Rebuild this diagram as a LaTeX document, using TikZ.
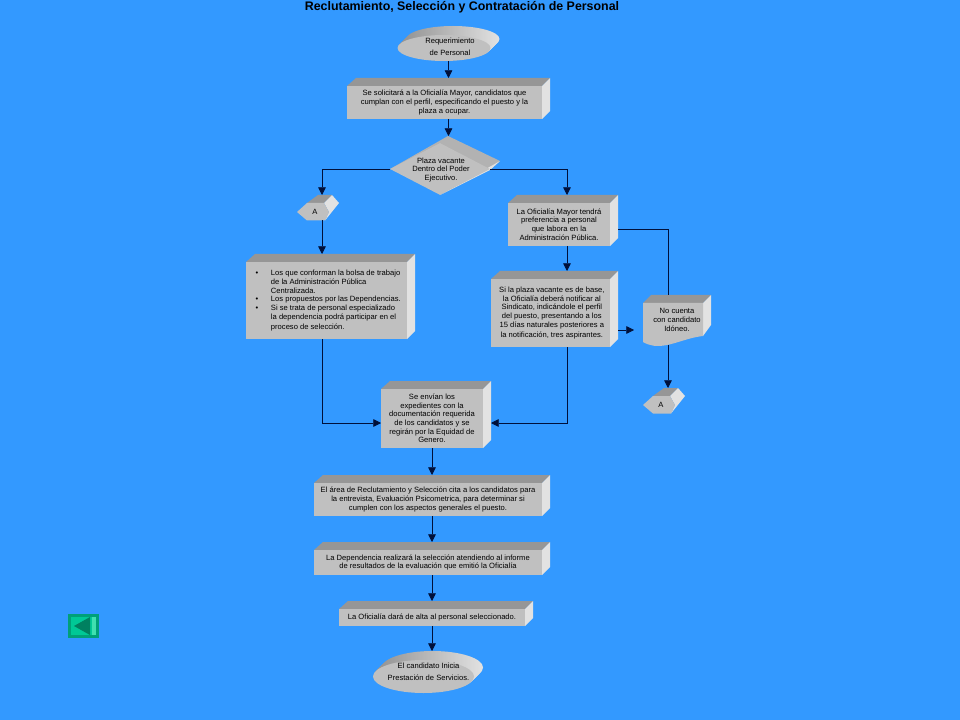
\documentclass[tikz,border=0pt]{standalone}
\usepackage{fontspec}
\setmainfont{Liberation Sans}
\usepackage{tikz}
\usetikzlibrary{arrows.meta,positioning,calc,shapes.geometric}
\definecolor{fondo}{HTML}{3399FF}
\definecolor{frente}{HTML}{C0C0C0}
\definecolor{arriba}{HTML}{969696}
\definecolor{medio}{HTML}{B2B2B2}
\definecolor{lado}{HTML}{E2E2E2}
\definecolor{linea}{HTML}{00103A}
\definecolor{boton}{HTML}{00A078}
\definecolor{botonin}{HTML}{00C896}
\definecolor{botonlu}{HTML}{40E0B0}
\definecolor{botonfl}{HTML}{008060}
\tikzset{
  borde/.style={inner sep=0pt,outer sep=0pt},
  texto/.style={inner sep=0pt,align=center,font=\fontsize{5.7}{6.5}\selectfont},
  flecha/.style={draw=linea,line width=0.6pt,-{Triangle[length=5.8pt,width=5.8pt]}},
  lin/.style={draw=linea,line width=0.6pt},
}
% caja: nombre, x1, y1, x2, y2, texto
\newcommand{\caja}[7][]{%
  \fill[arriba] (#3,#4) -- ++(9,-8) -- ($(#5,#4)+(8,-8)$) -- (#5,#4) -- cycle;
  \fill[lado] (#5,#4) -- ++(8,-8) -- ($(#5,#6)+(8,-8)$) -- (#5,#6) -- cycle;
  \fill[frente] (#3,#4) rectangle (#5,#6);
  \node[borde,minimum width={(#5-#3+8)*0.75pt},minimum height={(#6-#4+8)*0.75pt}]
    (#2) at ({(#3+#5+8)/2},{(#4+#6-8)/2}) {};
  \node[texto,#1] (#2-t) at ({(#3+#5)/2},{(#4+#6)/2}) {#7};
}
% elipse: nombre, cx, cy, rx, ry
\newcommand{\elipse}[5]{%
  \foreach \i in {1,...,9}
    \shade[left color=arriba,middle color=arriba!85!lado,right color=lado] (#2+\i,#3-\i) ellipse ({#4} and {#5});
  \fill[frente] (#2,#3) ellipse ({#4} and {#5});
  \node[borde,minimum width={(2*#4+9)*0.75pt},minimum height={(2*#5+9)*0.75pt}]
    (#1) at (#2+4.5,#3-4.5) {};
}
% conector fuera de pagina: nombre, x, y
\newcommand{\hexa}[3]{%
  \begin{scope}[shift={(#2,#3)}]
    \fill[arriba] (10,-9) -- (21,-17) -- (35,-17) -- (27,-9) -- cycle;
    \fill[lado] (27,-9) -- (35,-17) -- (42,-9) -- (28,8.5) -- (32,0) -- cycle;
    \fill[frente] (0,0) -- (10,-9) -- (27,-9) -- (32,0) -- (28,8.5) -- (10,8.5) -- cycle;
    \node[texto] (#1) at (18,0) {A};
    \coordinate (#1-n) at (25,-17);
    \coordinate (#1-s) at (25,8.5);
  \end{scope}
}
\begin{document}
\begin{tikzpicture}[x=0.75pt,y=-0.75pt]
  \fill[fondo] (0,0) rectangle (960,720);
  \useasboundingbox (0,0) rectangle (960,720);
  \node[inner sep=0pt,font=\fontsize{9.3}{10}\selectfont\bfseries] (titulo) at (462,7)
    {Reclutamiento, Selección y Contratación de Personal};

  \elipse{ini}{444}{48}{46.5}{13}
  \node[texto] (ini-t) at (450,47) {Requerimiento\\[2.2pt]de Personal};
  \caja{sol}{347}{86}{542}{119}{Se solicitará a la Oficialía Mayor, candidatos que\\
    cumplan con el perfil, especificando el puesto y la\\plaza a ocupar.}

  % rombo
  \fill[medio] (390,169) -- (448,136) -- (500,161) -- (490,170) -- cycle;
  \fill[lado] (490,170) -- (500,161) -- (440,195) -- cycle;
  \node[diamond,fill=frente,inner sep=0pt,aspect=1.9,minimum width=75pt,minimum height=39pt] (pre) at (440,169) {};
  \node[texto] (pre-t) at (441,170) {Plaza vacante\\Dentro del Poder\\Ejecutivo.};
  \coordinate (pre-n) at (449,136);

  \hexa{ae}{297}{212}
  \caja[xshift=7pt,align=left]{izq}{246}{262}{407}{339}{%
    \llap{\textbullet\hspace{9.5pt}}Los que conforman la bolsa de trabajo\\
    de la Administración Pública\\
    Centralizada.\\
    \llap{\textbullet\hspace{9.5pt}}Los propuestos por las Dependencias.\\
    \llap{\textbullet\hspace{9.5pt}}Si se trata de personal especializado\\
    la dependencia podrá participar en el\\[1pt]
    proceso de selección.}
  \caja{ofi}{508}{203}{610}{246}{La Oficialía Mayor tendrá\\preferencia a personal\\
    que labora en la\\Administración Pública.}
  \caja[xshift=1pt]{bas}{491}{279}{610}{347}{Si la plaza vacante es de base,\\la Oficialía deberá notificar al\\
    Sindicato, indicándole el perfil\\del puesto, presentando a los\\
    15 días naturales posteriores a\\[1pt]la notificación, tres aspirantes.}
  \coordinate (colder) at (567,200);
  \coordinate (ofi-d) at (618,229);

  % documento
  \fill[arriba] (643,303) -- (651,295) -- (711,295) -- (703,303) -- cycle;
  \fill[lado] (703,303) -- (711,295) -- (711,325) -- (703,336) -- cycle;
  \fill[frente] (643,303) -- (703,303) -- (703,336) .. controls (685,338) and (670,347) .. (655,346)
    .. controls (650,345) and (646,344) .. (643,342) -- cycle;
  \node[texto] (doc) at (677,320) {No cuenta\\con candidato\\Idóneo.};
  \coordinate (doc-n) at (668,295);
  \coordinate (doc-s) at (668,345);
  \coordinate (doc-p) at (634,330);
  \hexa{ab}{643}{405}

  \caja{cen}{381}{389}{483}{448}{Se envían los\\expedientes con la\\documentación requerida\\
    de los candidatos y se\\regirán por la Equidad de\\Genero.}
  \coordinate (cen-i) at (381,423);
  \coordinate (cen-d) at (491,423);
  \coordinate (colcen) at (432,460);
  \caja{are}{314}{483}{542}{516}{El área de Reclutamiento y Selección cita a los candidatos para\\
    la entrevista, Evaluación Psicometrica, para determinar si\\cumplen con los aspectos generales el puesto.}
  \caja{dep}{314}{550}{542}{575}{La Dependencia realizará la selección atendiendo al informe\\
    de resultados de la evaluación que emitió la Oficialía}
  \caja{alt}{339}{609}{525}{626}{La Oficialía dará de alta al personal seleccionado.}
  \elipse{fin}{423.5}{676.5}{50.5}{16.5}
  \node[texto] (fin-t) at (428.5,672) {El candidato Inicia\\[2.5pt]Prestación de Servicios.};

  \draw[flecha] (ini.south) -- (ini.south |- sol.north);
  \draw[flecha] (sol.south) -- (sol.south |- pre-n);
  \draw[flecha] (pre.west) -| (ae-n);
  \draw[flecha] (pre.east) -| (colder |- ofi.north);
  \draw[flecha] (ae-s) -- (ae-s |- izq.north);
  \draw[flecha] (ae-s |- izq.south) |- (cen-i);
  \draw[flecha] (colder |- ofi.south) -- (colder |- bas.north);
  \draw[flecha] (colder |- bas.south) |- (cen-d);
  \draw[lin] (ofi-d) -| (doc-n);
  \draw[flecha] (bas.east |- doc-p) -- (doc-p);
  \draw[flecha] (doc-s) -- (ab-n);
  \draw[flecha] (colcen |- cen.south) -- (colcen |- are.north);
  \draw[flecha] (colcen |- are.south) -- (colcen |- dep.north);
  \draw[flecha] (colcen |- dep.south) -- (colcen |- alt.north);
  \draw[flecha] (colcen |- alt.south) -- (colcen |- fin.north);

  % boton
  \node[fill=boton,minimum width=23.5pt,minimum height=18pt,inner sep=0pt] (volver) at (83.5,626) {};
  \fill[botonin] (71,617) rectangle (96,635);
  \fill[botonlu] (92,617) rectangle (96,635);
  \fill[botonfl] (74,626) -- (90,617) -- (90,635) -- cycle;
\end{tikzpicture}
\end{document}
